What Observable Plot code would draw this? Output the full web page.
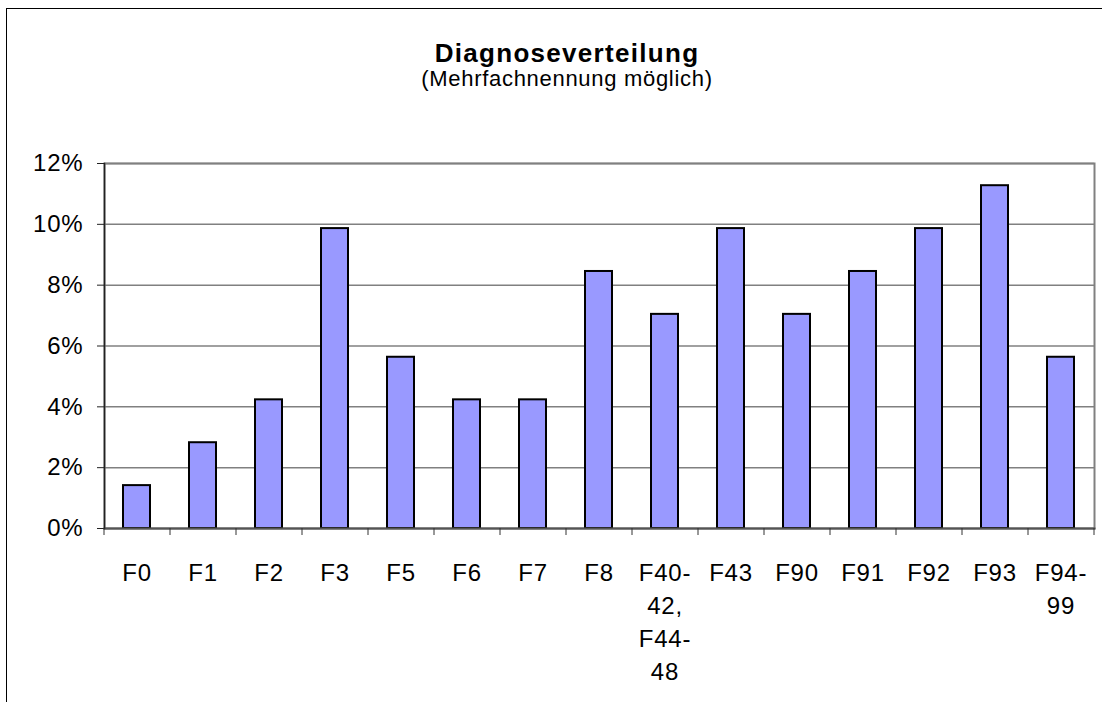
<!DOCTYPE html>
<html>
<head>
<meta charset="utf-8">
<script src="https://cdn.jsdelivr.net/npm/d3@7"></script>
<script src="https://cdn.jsdelivr.net/npm/@observablehq/plot@0.6"></script>
<style>
  html, body { margin: 0; padding: 0; background: #fff; }
  #page { position: relative; width: 1102px; height: 702px; overflow: hidden; font-family: "Liberation Sans", Arial, sans-serif; }
  #border { position: absolute; left: 6px; top: 8px; width: 1200px; height: 800px; border-left: 1.5px solid #000; border-top: 1.5px solid #000; }
  #title { position: absolute; left: 16px; width: 1102px; top: 40px; height: 26px; text-align: center; font-weight: bold; font-size: 26px; letter-spacing: 1.3px; color: #000; line-height: 26px; }
  #subtitle { position: absolute; left: 16px; width: 1102px; top: 68px; height: 22px; text-align: center; font-size: 22px; letter-spacing: 0.7px; color: #000; line-height: 22px; }
  #chart { position: absolute; left: 0; top: 0; }
</style>
</head>
<body>
<div id="page">
  <div id="border"></div>
  <div id="chart"></div>
  <div id="title">Diagnoseverteilung</div>
  <div id="subtitle">(Mehrfachnennung möglich)</div>
</div>
<script>
const categories = ["F0","F1","F2","F3","F5","F6","F7","F8","F40-42, F44-48","F43","F90","F91","F92","F93","F94-99"];
const values = [1.41, 2.82, 4.23, 9.86, 5.63, 4.23, 4.23, 8.45, 7.04, 9.86, 7.04, 8.45, 9.86, 11.27, 5.63];
const tickLabels = ["F0","F1","F2","F3","F5","F6","F7","F8","F40-\n42,\nF44-\n48","F43","F90","F91","F92","F93","F94-\n99"];
const yTicks = [0, 2, 4, 6, 8, 10, 12];

const data = categories.map((c, i) => ({cat: c, value: values[i]}));
const labelOf = new Map(categories.map((c, i) => [c, tickLabels[i]]));

const W = 1102, H = 702;
const mL = 104, mR = 8, mT = 163, mB = 174;
const step = (W - mL - mR) / categories.length;

const plot = Plot.plot({
  width: W,
  height: H,
  marginLeft: mL,
  marginRight: mR,
  marginTop: mT,
  marginBottom: mB,
  style: {fontFamily: "'Liberation Sans', Arial, sans-serif", fontSize: "24px", color: "#000", background: "transparent", overflow: "visible"},
  x: {domain: categories, paddingInner: 0.59, paddingOuter: 0.295, align: 0.5, label: null},
  y: {domain: [0, 12], ticks: yTicks, label: null},
  marks: [
    Plot.gridY(yTicks, {stroke: "#808080", strokeOpacity: 1, strokeWidth: 1.5}),
    Plot.frame({stroke: "#808080", strokeWidth: 2}),
    Plot.barY(data, {x: "cat", y: "value", fill: "#9999FF", stroke: "#000", strokeWidth: 2}),
    Plot.frame({anchor: "bottom", stroke: "#555", strokeWidth: 2}),
    Plot.frame({anchor: "left", stroke: "#222", strokeWidth: 1.5}),
    Plot.axisY({ticks: yTicks, tickFormat: d => d + "%", tickSize: 7, tickPadding: 14, stroke: "#222", fontSize: 24, label: null}),
    Plot.axisX({ticks: categories, tickSize: 7, tickFormat: () => "", dx: -step / 2, stroke: "#333", label: null}),
    Plot.axisX({ticks: [categories[categories.length - 1]], tickSize: 7, tickFormat: () => "", dx: step / 2, stroke: "#333", label: null}),
    Plot.axisX({ticks: categories, tickSize: 0, tickPadding: 29, tickFormat: d => labelOf.get(d), lineHeight: 1.375, fontSize: 24, textAnchor: "middle", label: null})
  ]
});
plot.querySelectorAll("text").forEach(t => t.style.letterSpacing = "0.8px");
document.getElementById("chart").appendChild(plot);
</script>
</body>
</html>
